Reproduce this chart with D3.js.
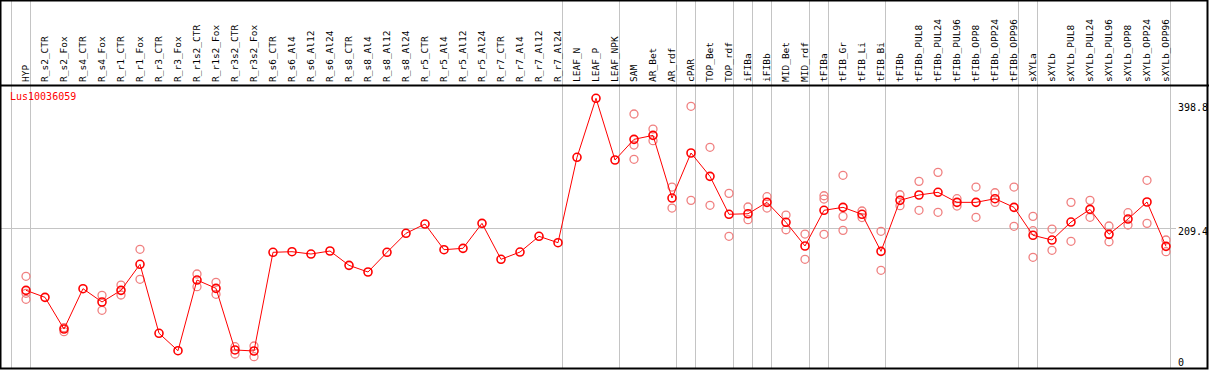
<!DOCTYPE html>
<html>
<head>
<meta charset="utf-8">
<script src="https://cdn.jsdelivr.net/npm/d3@7"></script>
<style>
  body { margin: 0; background: #fff; }
  svg text { font-family: "DejaVu Sans Mono", monospace; }
</style>
</head>
<body>
<script>
// chart size
var w = 1209;
var h = 370;

var geneName = "Lus10036059";

var sampleLabels = ["HYP","R_s2_CTR","R_s2_Fox","R_s4_CTR","R_s4_Fox","R_r1_CTR","R_r1_Fox",
  "R_r3_CTR","R_r3_Fox","R_r1s2_CTR","R_r1s2_Fox","R_r3s2_CTR","R_r3s2_Fox","R_s6_CTR",
  "R_s6_Al4","R_s6_Al12","R_s6_Al24","R_s8_CTR","R_s8_Al4","R_s8_Al12","R_s8_Al24",
  "R_r5_CTR","R_r5_Al4","R_r5_Al12","R_r5_Al24","R_r7_CTR","R_r7_Al4","R_r7_Al12","R_r7_Al24",
  "LEAF_N","LEAF_P","LEAF_NPK","SAM","AR_Bet","AR_rdf","cPAR","TOP_Bet","TOP_rdf","iFIBa",
  "iFIBb","MID_Bet","MID_rdf","tFIBa","tFIB_Gr","tFIB_Li","tFIB_Bi","tFIBb","tFIBb_PUL8",
  "tFIBb_PUL24","tFIBb_PUL96","tFIBb_OPP8","tFIBb_OPP24","tFIBb_OPP96","sXYLa","sXYLb",
  "sXYLb_PUL8","sXYLb_PUL24","sXYLb_PUL96","sXYLb_OPP8","sXYLb_OPP24","sXYLb_OPP96"];

// mean expression per sample
var meanValues = [119.0,108.8,62.6,121.4,102.0,119.0,156.9,56.4,31.0,134.0,121.9,32.1,30.6,174.4,
  175.3,171.9,176.3,155.4,145.7,174.4,202.1,215.6,178.2,180.2,216.6,164.2,174.8,197.7,188.4,
  312.8,398.8,308.9,339.0,344.8,253.5,319.1,285.1,229.8,230.6,247.2,218.1,183.6,235.6,239.9,
  229.8,175.8,250.1,257.9,261.8,247.2,247.2,252.5,239.9,199.2,192.3,218.5,237.0,200.6,222.9,
  247.7,183.1];

// replicate values per sample
var replicateValues = [
  [139.4,114.7,105.9],[],[64.5,58.7],[],[111.7,89.9],[126.7,112.2],[178.8,135.1],[],[],
  [142.8,124.3],[130.7,113.2],[36.9,26.2],[37.9,22.3],[],[],[],[],[],[],[],[],[],[],[],[],[],[],[],[],
  [],[],[],
  [375.9,330.7,309.9],[354.0,337.0],[269.5,238.9],[387.1,250.1],[327.4,242.9],[260.3,197.7],
  [240.4,221.9],[255.4,238.9],[228.7,207.3],[201.0,164.2],[256.8,252.0,200.6],
  [286.6,226.8,206.4],[234.6,225.0],[205.0,148.2],[258.3,242.3],[277.8,235.6],[290.9,232.7],
  [252.5,241.8],[269.5,225.4],[261.2,247.2],[269.5,212.3],[226.8,205.9,167.1],[208.3,177.3],
  [247.2,190.4],[250.1,225.4],[212.7,189.8],[232.1,214.2],[279.3,216.6],[192.3,175.3]];

// first sample index of each group (column separators)
var groupStarts = [0,1,29,32,35,36,38,39,40,42,43,46,53,54,61];

var yTicks = [398.8, 209.4, 0];

var headerH = 85;
var red = "#ff0000";
var pink = "#f08080";
var grey = "#c4c4c4";

var svg = d3.select("body").append("svg")
  .attr("width", w)
  .attr("height", h);

// column edges
var xEdge = d3.scaleLinear()
  .domain([0, sampleLabels.length])
  .range([11, 1170]);

var cx = function(i) { return xEdge(i) + 15; };

var y = d3.scaleLinear()
  .domain([0, 398.8])
  .range([372, 98.3]);

// separators run through header and plot
svg.selectAll("line.sep")
  .data(groupStarts)
  .enter()
  .append("line")
  .attr("class", "sep")
  .attr("x1", function(d) { return Math.round(xEdge(d)) + 0.5; })
  .attr("x2", function(d) { return Math.round(xEdge(d)) + 0.5; })
  .attr("y1", 0)
  .attr("y2", 368)
  .attr("stroke", grey)
  .attr("stroke-width", 1);

// gridline at middle tick
svg.append("line")
  .attr("x1", 1)
  .attr("x2", 1176)
  .attr("y1", Math.round(y(209.4)) + 0.5)
  .attr("y2", Math.round(y(209.4)) + 0.5)
  .attr("stroke", grey);

// frame
svg.append("rect")
  .attr("x", 0.5).attr("y", 0.5)
  .attr("width", w - 2).attr("height", 368)
  .attr("fill", "none")
  .attr("stroke", "#000")
  .attr("stroke-width", 2);

svg.append("line")
  .attr("x1", 0).attr("x2", w)
  .attr("y1", headerH + 0.5).attr("y2", headerH + 0.5)
  .attr("stroke", "#000")
  .attr("stroke-width", 2);

// header labels
svg.selectAll("text.lab")
  .data(sampleLabels)
  .enter()
  .append("text")
  .attr("class", "lab")
  .attr("transform", function(d, i) { return "translate(" + (cx(i) + 3) + ",82) rotate(-90)"; })
  .attr("font-size", "9.5px")
  .attr("fill", "#000")
  .text(function(d) { return d; });

svg.append("text")
  .attr("x", 10)
  .attr("y", 100)
  .attr("font-size", "10px")
  .attr("fill", red)
  .text(geneName);

// right axis labels
var labelY = { "398.8": 111, "209.4": 235, "0": 366 };
svg.selectAll("text.ytick")
  .data(yTicks)
  .enter()
  .append("text")
  .attr("class", "ytick")
  .attr("x", 1178)
  .attr("y", function(d) { return labelY[String(d)]; })
  .attr("font-size", "10px")
  .attr("fill", "#000")
  .text(function(d) { return String(d); });

// replicates
var reps = [];
replicateValues.forEach(function(r, i) {
  r.forEach(function(v) { reps.push({ i: i, v: v }); });
});

svg.selectAll("circle.rep")
  .data(reps)
  .enter()
  .append("circle")
  .attr("class", "rep")
  .attr("cx", function(d) { return cx(d.i); })
  .attr("cy", function(d) { return y(d.v); })
  .attr("r", 4)
  .attr("fill", "none")
  .attr("stroke", pink)
  .attr("stroke-width", 1.3);

var line = d3.line()
  .x(function(d, i) { return cx(i); })
  .y(function(d) { return y(d); });

svg.append("path")
  .datum(meanValues)
  .attr("d", line)
  .attr("fill", "none")
  .attr("stroke", red)
  .attr("stroke-width", 1);

svg.selectAll("circle.mean")
  .data(meanValues)
  .enter()
  .append("circle")
  .attr("class", "mean")
  .attr("cx", function(d, i) { return cx(i); })
  .attr("cy", function(d) { return y(d); })
  .attr("r", 4)
  .attr("fill", "none")
  .attr("stroke", red)
  .attr("stroke-width", 1.6);
</script>
</body>
</html>
